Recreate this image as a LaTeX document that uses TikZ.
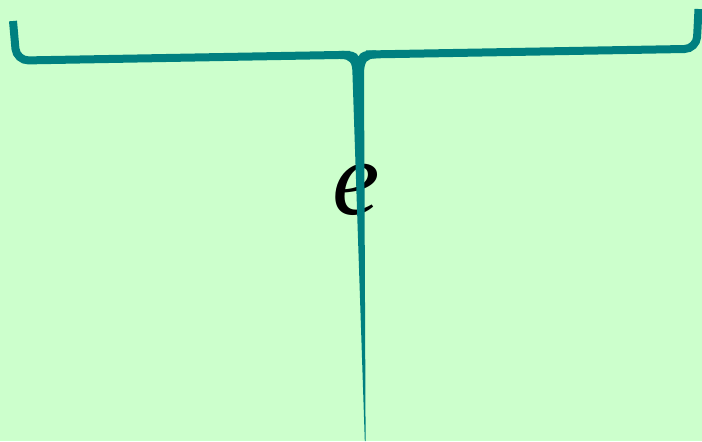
\documentclass[tikz,border=0pt]{standalone}
\usepackage{fontspec}
\usepackage{tikz}

\newfontfamily\efont{Liberation Serif}
\definecolor{bgmint}{RGB}{204,255,204}

\begin{document}
\begin{tikzpicture}[
x=0.025cm, y=-0.025cm,
arm/.style={draw=teal, line width=0.2cm, rounded corners=0.3cm, line cap=butt},
spike/.style={fill=teal},
sym/.style={inner sep=0pt, font=\efont\itshape\fontsize{76}{80}\selectfont}
]
\fill[bgmint] (0,0) rectangle (702,441);
\useasboundingbox (0,0) rectangle (702,441);

\node[sym] (e) at (356,190) {e};

\draw[arm] (13,21) -- (16.5,60.6) -- (350,54.8);
\draw[arm] (366,54.5) -- (696.5,48.8) -- (698.5,9);
\fill[spike] (340,51) .. controls (352,50.8) and (357,52) .. (358.5,56.5)
  .. controls (360,52) and (365,50.5) .. (376,50.4)
  -- (376,58.4) .. controls (367,58.5) and (364,61) .. (364,75)
  -- (365.6,441) -- (364.8,441) -- (352.5,75)
  .. controls (352.5,62) and (350,58.9) .. (340,59) -- cycle;
\end{tikzpicture}
\end{document}
